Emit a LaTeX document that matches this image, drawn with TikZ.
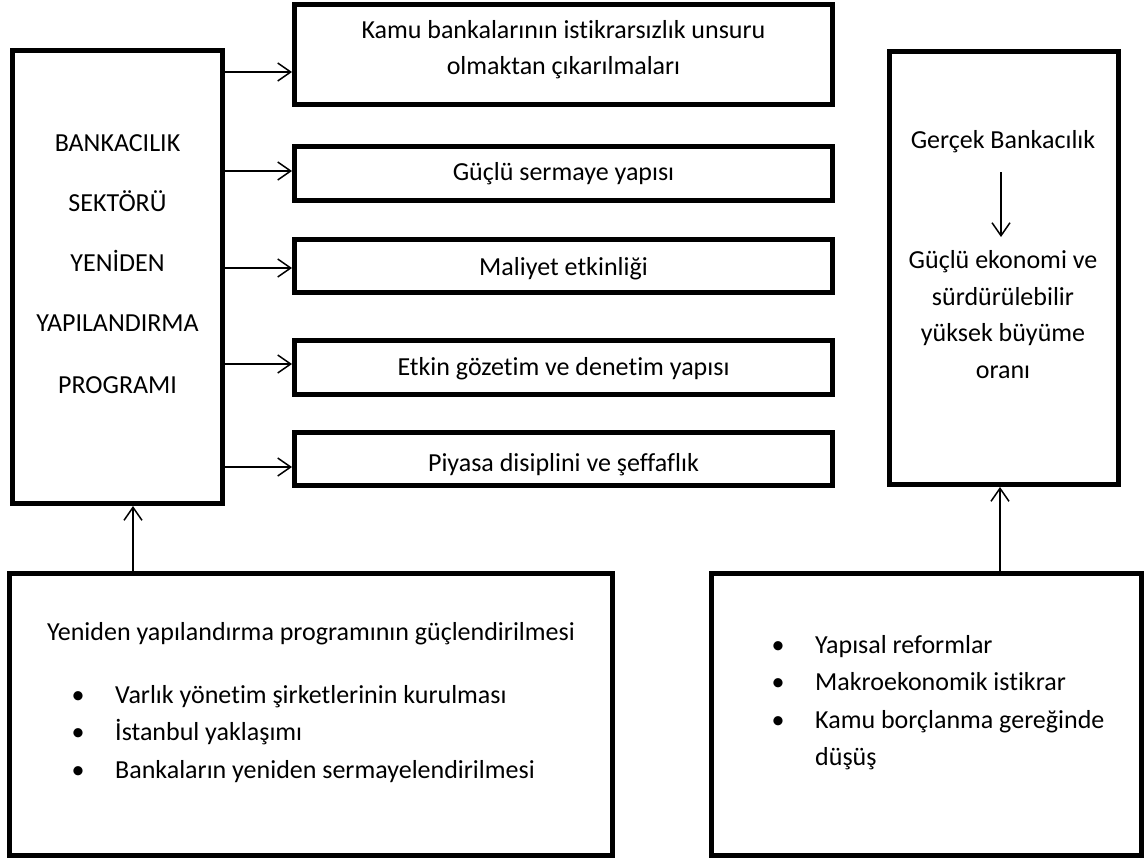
\documentclass[tikz,border=0pt]{standalone}
\usepackage{fontspec}
\setmainfont{Carlito}[Ligatures={NoCommon}]
\usetikzlibrary{arrows.meta}
\begin{document}
\begin{tikzpicture}[x=1pt,y=-1pt,
  box/.style={draw,line width=5pt,inner sep=0pt,rectangle},
  txt/.style={inner sep=0pt,text height=19pt,text depth=3pt,font=\fontsize{26}{37}\selectfont},
  arr/.style={line width=1.5pt,-{Straight Barb[length=13pt,width=18pt]}}]
\useasboundingbox (0,0) rectangle (1148,862);

% boxes
\node[box,minimum width=210pt,minimum height=453pt] (L) at (117.5,277) {};
\node[box,minimum width=538pt,minimum height=100pt] (T1) at (563.5,54.5) {};
\node[box,minimum width=538pt,minimum height=54pt] (T2) at (563.5,173.5) {};
\node[box,minimum width=538pt,minimum height=53pt] (T3) at (563.5,266) {};
\node[box,minimum width=538pt,minimum height=54pt] (T4) at (563.5,367.5) {};
\node[box,minimum width=538pt,minimum height=53pt] (T5) at (563.5,459) {};
\node[box,minimum width=229pt,minimum height=433pt] (R) at (1004,268) {};
\node[box,minimum width=603pt,minimum height=282pt] (BL) at (311,714.5) {};
\node[box,minimum width=430pt,minimum height=282pt] (BR) at (926.5,714.5) {};

% left box text
\node[txt] (l1) at (117.5,143) {BANKACILIK};
\node[txt] (l2) at (117.5,203) {SEKTÖRÜ};
\node[txt] (l3) at (117.5,263) {YENİDEN};
\node[txt] (l4) at (117.5,323) {YAPILANDIRMA};
\node[txt] (l5) at (117.5,385) {PROGRAMI};

% center boxes text
\node[txt] (t1a) at (563.5,30) {Kamu bankalarının istikrarsızlık unsuru};
\node[txt] (t1b) at (563.5,66) {olmaktan çıkarılmaları};
\node[txt] (t2) at (563.5,172) {Güçlü sermaye yapısı};
\node[txt] (t3) at (563.5,267) {Maliyet etkinliği};
\node[txt] (t4) at (563.5,367) {Etkin gözetim ve denetim yapısı};
\node[txt] (t5) at (563.5,463) {Piyasa disiplini ve şeffaflık};

% right box text
\node[txt] (r1) at (1003,140) {Gerçek Bankacılık};
\node[txt] (r2) at (1003,260) {Güçlü ekonomi ve};
\node[txt] (r3) at (1003,297) {sürdürülebilir};
\node[txt] (r4) at (1003,333) {yüksek büyüme};
\node[txt] (r5) at (1003,370) {oranı};
\coordinate (ra) at (1001,172);
\coordinate (rb) at (1001,237);

% bottom left text
\node[txt] (bl0) at (311,632) {Yeniden yapılandırma programının güçlendirilmesi};
\node[txt] (bl1d) at (78,695) {•};
\node[txt] (bl2d) at (78,732.5) {•};
\node[txt] (bl3d) at (78,770) {•};
\node[txt,anchor=west] (bl1) at (115,695) {Varlık yönetim şirketlerinin kurulması};
\node[txt,anchor=west] (bl2) at (115,732.5) {İstanbul yaklaşımı};
\node[txt,anchor=west] (bl3) at (115,770) {Bankaların yeniden sermayelendirilmesi};

% bottom right text
\node[txt] (br1d) at (778,645) {•};
\node[txt] (br2d) at (778,682.5) {•};
\node[txt] (br3d) at (778,720) {•};
\node[txt,anchor=west] (br1) at (815,645) {Yapısal reformlar};
\node[txt,anchor=west] (br2) at (815,682.5) {Makroekonomik istikrar};
\node[txt,anchor=west] (br3) at (815,720) {Kamu borçlanma gereğinde};
\node[txt,anchor=west] (br4) at (815,757.5) {düşüş};

% connectors
\draw[arr] (L.east |- 0,72) -- (T1.west |- 0,72);
\draw[arr] (L.east |- 0,171) -- (T2.west |- 0,171);
\draw[arr] (L.east |- 0,268) -- (T3.west |- 0,268);
\draw[arr] (L.east |- 0,364) -- (T4.west |- 0,364);
\draw[arr] (L.east |- 0,467) -- (T5.west |- 0,467);
\draw[arr] (BL.north -| 133,0) -- (L.south -| 133,0);
\draw[arr] (BR.north -| 1000,0) -- (R.south -| 1000,0);
\draw[arr] (ra) -- (rb);
\end{tikzpicture}
\end{document}
